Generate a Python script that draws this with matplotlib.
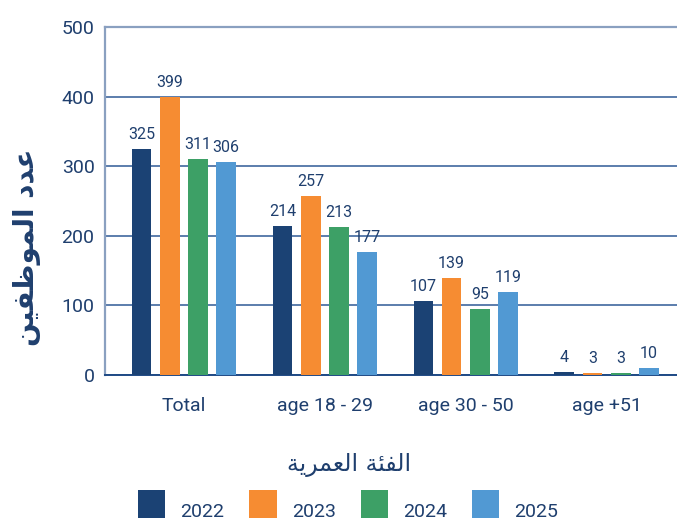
import matplotlib
matplotlib.use("Agg")
import matplotlib.pyplot as plt
import numpy as np

plt.rcParams['font.family'] = ['Roboto', 'DejaVu Sans']

categories = ['Total', 'age 18 - 29', 'age 30 - 50', 'age +51']
years = ['2022', '2023', '2024', '2025']
v2022 = [325, 214, 107, 4]
v2023 = [399, 257, 139, 3]
v2024 = [311, 213, 95, 3]
v2025 = [306, 177, 119, 10]
series = [v2022, v2023, v2024, v2025]
colors = ['#1b4274', '#f68c32', '#3da066', '#5199d3']

# Arabic labels written in shaped presentation forms, visual order
ylabel_ar = '\ufee6\ufef4\ufed4\ufec7\ufeee\ufee4\ufedf\ufe8d \ufea9\ufeaa\ufecb'
xlabel_ar = '\ufe94\ufef3\ufeae\ufee4\ufecc\ufedf\ufe8d \ufe94\ufe8c\ufed4\ufedf\ufe8d'

navy = '#1f3f6e'

fig = plt.figure(figsize=(6.77, 5.18), dpi=100)
ax = fig.add_axes([105 / 677, 1 - 375 / 518, 572 / 677, 348 / 518])

x = np.arange(len(categories))
slot = 0.2
width = 0.14
for i, (vals, c) in enumerate(zip(series, colors)):
    pos = x + (i - 1.5) * slot
    bars = ax.bar(pos, vals, width=width, color=c, label=years[i], zorder=3)
    for b, v in zip(bars, vals):
        ax.annotate(str(v), (b.get_x() + b.get_width() / 2, v),
                    xytext=(0, 5), textcoords='offset points',
                    ha='center', va='bottom', fontsize=11.5, color=navy)

ax.set_xlim(-0.56, 3.5)
ax.set_ylim(0, 500)
ax.set_yticks([0, 100, 200, 300, 400, 500])
ax.set_xticks(x)
ax.set_xticklabels(categories)

ax.yaxis.grid(True, color='#2f5a96', linewidth=1.1, zorder=0)
ax.set_axisbelow(True)
ax.tick_params(axis='both', length=0, labelsize=14, labelcolor=navy)
ax.tick_params(axis='y', pad=7.5)
ax.tick_params(axis='x', pad=16)

ax.spines['right'].set_visible(False)
ax.spines['top'].set_color('#8aa0c0')
ax.spines['top'].set_linewidth(1.6)
ax.spines['left'].set_color('#8aa0c0')
ax.spines['left'].set_linewidth(1.6)
ax.spines['bottom'].set_color('#1f4a85')
ax.spines['bottom'].set_linewidth(1.4)

fig.text(27 / 677, 1 - 247 / 518, ylabel_ar, rotation=90, ha='center', va='center',
         fontsize=20, fontweight='bold', color=navy, family=['DejaVu Sans'])
fig.text(349 / 677, 1 - 465 / 518, xlabel_ar, ha='center', va='center',
         fontsize=17, color=navy, family=['DejaVu Sans'])

fig.legend(loc='upper left', bbox_to_anchor=(138 / 677, 1 - 490 / 518),
           ncol=4, frameon=False, fontsize=14, labelcolor=navy,
           handlelength=1.39, handleheight=3.0, handletextpad=0.78,
           columnspacing=1.3, borderpad=0, borderaxespad=0)

fig.savefig('out.png', dpi=100)
